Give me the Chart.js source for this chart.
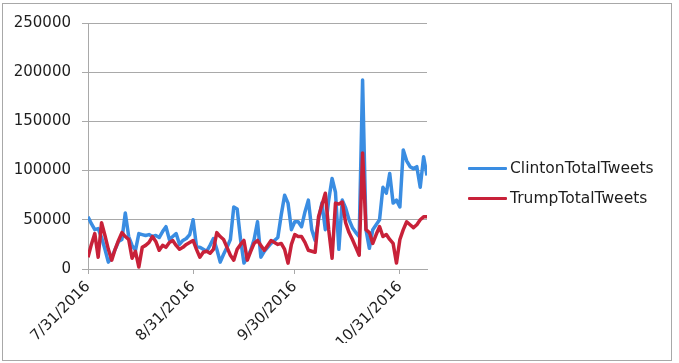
<!DOCTYPE html>
<html>
<head>
<meta charset="utf-8">
<script src="https://cdn.jsdelivr.net/npm/chart.js@4"></script>
<style>
  html, body { margin: 0; padding: 0; background: #fff; }
  #wrap { position: relative; width: 679px; height: 363px; }
  #legend { position: absolute; left: 468px; top: 158px; font: 15.5px 'DejaVu Sans'; color: #1e1e1e; }
  #legend .item { position: relative; height: 30px; line-height: 20px; white-space: nowrap; }
  #legend .swatch { position: absolute; left: 0; top: 9px; width: 39px; height: 3px; border-radius: 1px; }
  #legend .name { position: absolute; left: 42px; top: 0; }
</style>
</head>
<body>
<div id="wrap">
  <canvas id="c" width="679" height="363"></canvas>
  <div id="legend"></div>
</div>
<script>
// daily totals, day 0 = 7/31/2016 ... day 100 = 11/8/2016
var CLINTON = [
  53000, 46000, 40000, 41000, 32000, 20000, 7000, 12000, 20000, 28000,
  30000, 57000, 33000, 24000, 19000, 36000, 35000, 34000, 35000, 33000,
  34000, 32000, 38000, 43000, 30000, 33000, 36000, 25000, 29000, 31000,
  35000, 50000, 23000, 22000, 20000, 18000, 24000, 31000, 20000, 7000,
  15000, 22000, 30000, 63000, 61000, 30000, 6000, 12000, 19000, 30000,
  48000, 12000, 18000, 22000, 26000, 29000, 32000, 55000, 75000, 67000,
  40000, 48000, 48000, 43000, 58000, 70000, 40000, 29000, 50000, 67000,
  40000, 70000, 92000, 78000, 20000, 70000, 62000, 50000, 42000, 37000,
  33000, 192000, 40000, 21000, 40000, 45000, 50000, 83000, 77000, 97000,
  67000, 70000, 63000, 121000, 110000, 104000, 102000, 104000, 83000, 114000,
  95000
];
var TRUMP = [
  12000, 25000, 36000, 12000, 47000, 34000, 20000, 9000, 20000, 29000,
  37000, 33000, 30000, 11000, 18000, 2000, 22000, 24000, 27000, 33000,
  28000, 19000, 24000, 22000, 27000, 29000, 24000, 20000, 22000, 25000,
  27000, 29000, 20000, 12000, 17000, 18000, 16000, 20000, 37000, 33000,
  30000, 22000, 14000, 9000, 20000, 25000, 29000, 9000, 18000, 26000,
  29000, 24000, 19000, 24000, 29000, 27000, 25000, 26000, 20000, 6000,
  25000, 35000, 33000, 33000, 27000, 19000, 18000, 17000, 53000, 65000,
  77000, 40000, 11000, 67000, 66000, 68000, 47000, 37000, 30000, 22000,
  14000, 118000, 40000, 37000, 26000, 35000, 43000, 33000, 35000, 30000,
  26000, 6000, 30000, 40000, 48000, 45000, 42000, 45000, 50000, 53000,
  53000
];
var TICK_DAYS = [0, 31, 61, 92];
var TICK_LABELS = ['7/31/2016', '8/31/2016', '9/30/2016', '10/31/2016'];
var SERIES_NAMES = ['ClintonTotalTweets', 'TrumpTotalTweets'];

var BLUE = '#3a8de2';
var RED = '#c82139';
var GRID = '#a9a9a9';
var TEXT = '#1e1e1e';
var FONT = { family: 'DejaVu Sans', size: 15 };

function toPoints(arr) {
  return arr.map(function (v, i) { return { x: i, y: v }; });
}

// outer frame like the spreadsheet chart area
var framePlugin = {
  id: 'frame',
  beforeDraw: function (chart) {
    var c = chart.ctx;
    c.save();
    c.fillStyle = '#fff';
    c.fillRect(0, 0, chart.width, chart.height);
    c.strokeStyle = '#a8a8a8';
    c.lineWidth = 1;
    c.strokeRect(2.5, 3.5, 669, 357);
    c.restore();
  }
};

var chart = new Chart(document.getElementById('c'), {
  type: 'line',
  data: {
    datasets: [
      {
        label: SERIES_NAMES[0],
        data: toPoints(CLINTON),
        borderColor: BLUE,
        backgroundColor: BLUE,
        borderWidth: 3.5,
        borderJoinStyle: 'round',
        pointRadius: 0,
        tension: 0,
        order: 1
      },
      {
        label: SERIES_NAMES[1],
        data: toPoints(TRUMP),
        borderColor: RED,
        backgroundColor: RED,
        borderWidth: 3.5,
        borderJoinStyle: 'round',
        pointRadius: 0,
        tension: 0,
        order: 0
      }
    ]
  },
  options: {
    responsive: false,
    animation: false,
    layout: { padding: { top: 23, right: 252, bottom: 20, left: 0 } },
    plugins: {
      tooltip: { enabled: false },
      legend: { display: false }
    },
    scales: {
      x: {
        type: 'linear',
        min: 0,
        max: 100,
        afterBuildTicks: function (s) {
          s.ticks = TICK_DAYS.map(function (v) { return { value: v }; });
        },
        afterFit: function (s) { s.height = 74; },
        ticks: {
          autoSkip: false,
          minRotation: 45,
          maxRotation: 45,
          padding: 4,
          color: TEXT,
          font: FONT,
          callback: function (v) { return TICK_LABELS[TICK_DAYS.indexOf(v)]; }
        },
        grid: { drawOnChartArea: false, tickLength: 5, color: GRID },
        border: { color: GRID }
      },
      y: {
        min: 0,
        max: 250000,
        afterFit: function (s) { s.width = 88; },
        ticks: {
          stepSize: 50000,
          padding: 11,
          color: TEXT,
          font: FONT,
          callback: function (v) { return String(v); }
        },
        grid: { color: GRID, tickLength: 6 },
        border: { color: GRID }
      }
    }
  },
  plugins: [framePlugin]
});

// html legend built from the datasets
var legendEl = document.getElementById('legend');
chart.data.datasets.forEach(function (ds) {
  var item = document.createElement('div');
  item.className = 'item';
  var sw = document.createElement('span');
  sw.className = 'swatch';
  sw.style.background = ds.borderColor;
  var name = document.createElement('span');
  name.className = 'name';
  name.textContent = ds.label;
  item.appendChild(sw);
  item.appendChild(name);
  legendEl.appendChild(item);
});
</script>
</body>
</html>
